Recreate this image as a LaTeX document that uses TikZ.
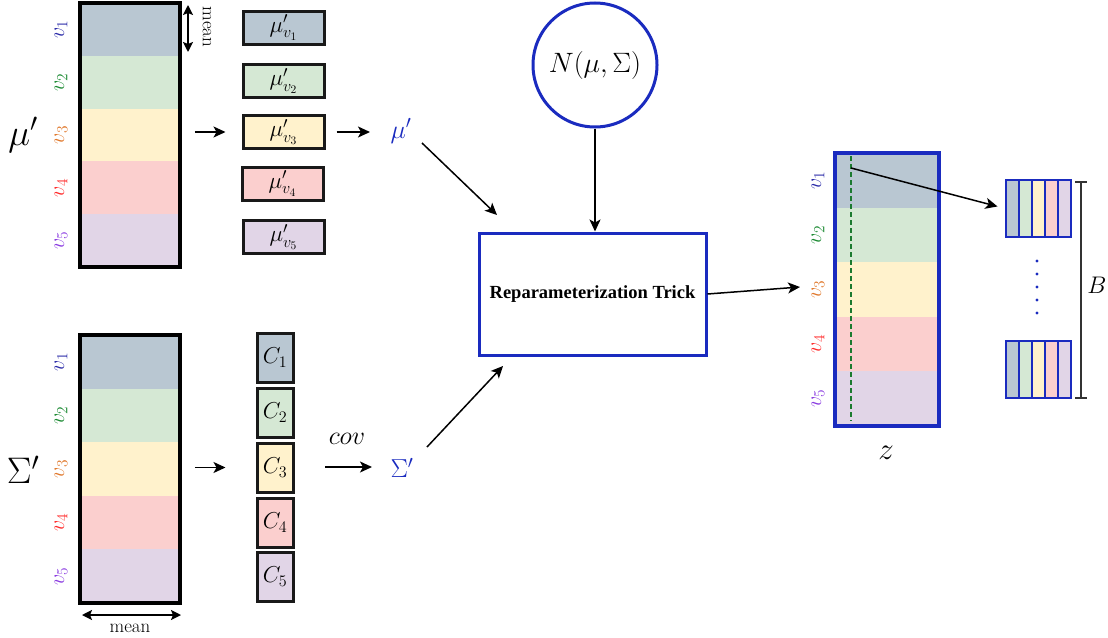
\RequirePackage{fix-cm}
\documentclass[tikz,border=0pt]{standalone}
\usepackage{fontspec}
\newfontfamily\timesfont{Liberation Serif}
\usetikzlibrary{arrows.meta,fit,calc}
\definecolor{c1}{HTML}{B9C7D2}
\definecolor{c2}{HTML}{D5E8D4}
\definecolor{c3}{HTML}{FFF2CC}
\definecolor{c4}{HTML}{FBCFCE}
\definecolor{c5}{HTML}{E1D5E7}
\definecolor{lc1}{HTML}{2A2AA8}
\definecolor{lc2}{HTML}{1B8A32}
\definecolor{lc3}{HTML}{E0782C}
\definecolor{lc4}{HTML}{FF2A2A}
\definecolor{lc5}{HTML}{8A3BE0}
\definecolor{dblue}{HTML}{1A2BBF}
\definecolor{dgreen}{HTML}{1B7A2F}
\newcommand{\fs}[1]{\fontsize{#1}{#1}\selectfont}
\begin{document}
\begin{tikzpicture}[x=1pt,y=-1pt,
  arr/.style={-{Stealth[length=12pt,width=11pt,inset=3pt]}, line width=1.5pt},
  darr/.style={{Stealth[length=10pt,width=10pt,inset=2pt]}-{Stealth[length=10pt,width=10pt,inset=2pt]}, line width=1.6pt},
  stripe/.style={inner sep=0pt, outer sep=0pt, minimum width=100pt, anchor=north west, draw=none},
  vlab/.style={rotate=90, font=\fs{22}, inner sep=1pt},
  mubox/.style={draw=black!90, line width=3pt, minimum width=81pt, minimum height=33pt, inner sep=0pt, font=\fs{23}},
  cbox/.style={draw=black!90, line width=3pt, minimum width=36pt, minimum height=49pt, inner sep=0pt, font=\fs{23}},
  sstripe/.style={inner sep=0pt, outer sep=0pt, minimum width=13pt, minimum height=57pt, anchor=north west, draw=dblue, line width=1.2pt}
]
\useasboundingbox (0,0) rectangle (1108,637);

% ---------- top column (mu') ----------
\foreach \i in {1,...,5} {
  \node[stripe, fill=c\i, minimum height=52.8pt] (a\i) at (80,{3+(\i-1)*52.8}) {};
  \node[vlab, text=lc\i] (av\i) at (61,{3+(\i-0.5)*52.8}) {$v_{\i}$};
}
\node[draw, line width=3.5pt, fit=(a1)(a5), inner sep=0pt] (colA) {};
\node[font=\fs{37}] (muBig) at (23,135) {$\mu'$};
\coordinate (mt1) at (188,5);
\coordinate (mt2) at (188,52);
\draw[darr] (mt1) -- (mt2);
\node[rotate=-90, font=\fs{19}, inner sep=0pt] (meanA) at (207,27) {mean};

% mu boxes
\node[mubox, fill=c1] (m1) at (283.5,27.5) {$\mu'_{v_1}$};
\node[mubox, fill=c2] (m2) at (283.5,81) {$\mu'_{v_2}$};
\node[mubox, fill=c3] (m3) at (283.5,132) {$\mu'_{v_3}$};
\node[mubox, fill=c4] (m4) at (282.5,183.5) {$\mu'_{v_4}$};
\node[mubox, fill=c5] (m5) at (283.5,237) {$\mu'_{v_5}$};
\draw[arr, shorten <=13pt, shorten >=16pt] (colA.east |- m3.west) -- (m3.west);
\node[text=dblue, font=\fs{26}] (muP) at (401,131) {$\mu'$};
\draw[arr, shorten <=11pt] (m3.east) -- (370,132);

% ---------- bottom column (Sigma') ----------
\foreach \i in {1,...,5} {
  \node[stripe, fill=c\i, minimum height=53.6pt] (b\i) at (80,{335+(\i-1)*53.6}) {};
  \node[vlab, text=lc\i] (bv\i) at (61,{335+(\i-0.5)*53.6}) {$v_{\i}$};
}
\node[draw, line width=3.5pt, fit=(b1)(b5), inner sep=0pt] (colB) {};
\node[font=\fs{37}] (sigBig) at (23,470) {$\Sigma'$};
\coordinate (mb1) at (82,615);
\coordinate (mb2) at (181,615);
\draw[darr] (mb1) -- (mb2);
\node[font=\fs{19}, inner sep=0pt] (meanB) at (130,628) {mean};

% C boxes
\node[cbox, fill=c1] (C1) at (275,357.5) {$C_1$};
\node[cbox, fill=c2] (C2) at (275,412.5) {$C_2$};
\node[cbox, fill=c3] (C3) at (275,467.5) {$C_3$};
\node[cbox, fill=c4] (C4) at (275,522.5) {$C_4$};
\node[cbox, fill=c5] (C5) at (275,576.5) {$C_5$};
\draw[arr, shorten <=13pt, shorten >=30pt] (colB.east |- C3.west) -- (C3.west);
\node[text=dblue, font=\fs{26}] (sigP) at (402,468) {$\Sigma'$};
\coordinate (cs) at (325,467);
\coordinate (ce) at (372,467);
\draw[arr] (cs) -- (ce);
\node[font=\fs{26}] (cov) at (347,439) {$cov$};

% ---------- middle ----------
\node[draw=dblue, line width=3pt, circle, minimum size=124pt, inner sep=0pt, font=\fs{28}] (N) at (595,65) {$N(\mu,\Sigma)$};
\node[draw=dblue, line width=3pt, minimum width=227pt, minimum height=122pt, inner sep=0pt, font=\timesfont\bfseries\fs{18.5}] (rep) at (592.5,294) {Reparameterization Trick};
\draw[arr] (N.south) -- (N.south |- rep.north);
\coordinate (p1) at (422,143);
\coordinate (p2) at (497,215);
\draw[arr] (p1) -- (p2);
\coordinate (q1) at (427,447);
\coordinate (q2) at (503,366);
\draw[arr] (q1) -- (q2);

% ---------- z column ----------
\foreach \i in {1,...,5} {
  \node[stripe, fill=c\i, minimum width=104pt, minimum height=54.6pt] (z\i) at (835,{153+(\i-1)*54.6}) {};
  \node[vlab, text=lc\i] (zv\i) at (818,{153+(\i-0.5)*54.6}) {$v_{\i}$};
}
\node[draw=dblue, line width=4.5pt, fit=(z1)(z5), inner sep=0pt] (colZ) {};
\coordinate (zin) at (800,287);
\draw[arr] (rep.east) -- (zin);
\coordinate (gd1) at (851,156);
\coordinate (gd2) at (851,421);
\draw[dgreen, line width=1.3pt, dash pattern=on 5pt off 3pt] (gd1) -- (gd2);
\node[font=\fs{31}] (zlab) at (886,453) {$z$};

% stacks
\foreach \j in {1,...,5} {
  \node[sstripe, fill=c\j] (s1\j) at ({1006+(\j-1)*13},180) {};
  \node[sstripe, fill=c\j] (s2\j) at ({1006+(\j-1)*13},341) {};
}
\node[draw=dblue, line width=1.5pt, fit=(s11)(s15), inner sep=0pt] (st1) {};
\node[draw=dblue, line width=1.5pt, fit=(s21)(s25), inner sep=0pt] (st2) {};
\coordinate (za) at (851,168);
\draw[arr, shorten >=8pt] (za) -- (st1.west);
\foreach \k in {0,...,4} \fill[dblue] (1037,{261+13*\k}) circle (1.7pt);

% B bracket
\coordinate (bt) at (1081,182);
\coordinate (bb) at (1081,398);
\draw[black!80, line width=1.5pt] (bt) -- (bb);
\draw[black!80, line width=1.5pt] ($(bt)+(-6,0)$) -- ($(bt)+(6,0)$);
\draw[black!80, line width=1.5pt] ($(bb)+(-6,0)$) -- ($(bb)+(6,0)$);
\node[font=\fs{24}] (Blab) at (1097,285) {$B$};
\end{tikzpicture}
\end{document}
